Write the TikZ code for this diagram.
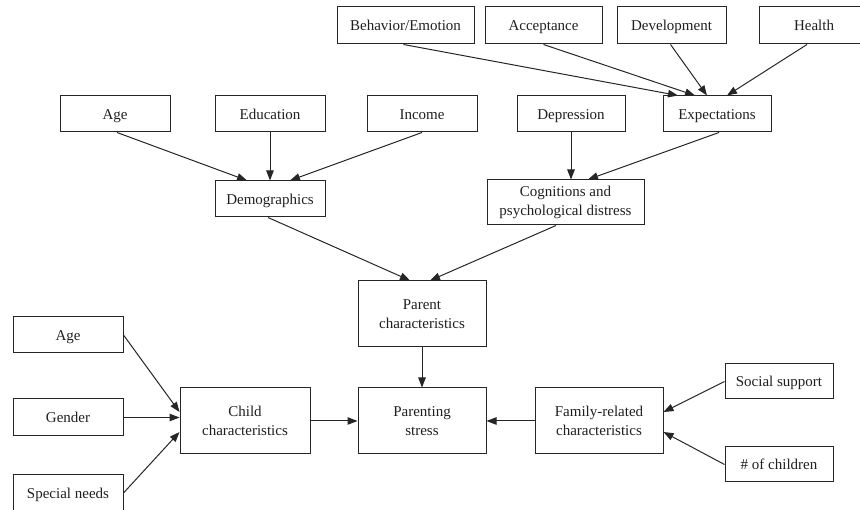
\documentclass[tikz,border=0pt]{standalone}
\usepackage{fontspec}
\setmainfont{Liberation Serif}
\usetikzlibrary{arrows.meta}
\begin{document}
\begin{tikzpicture}[x=1pt,y=-1pt,
  box/.style={draw=black!85,line width=1pt,align=center,inner sep=0pt,
    font=\fontsize{15}{18.5}\selectfont,text=black!88},
  one/.style={box,text height=13.5pt,text depth=2.5pt},
  arr/.style={draw=black!85,line width=1pt,-{Triangle[length=10pt,width=7.5pt]}}]
\useasboundingbox (0,0) rectangle (860,510);
\clip (0,0) rectangle (860,510);
% top row
\node[one,minimum width=137pt,minimum height=37pt] (beh) at (405.5,25.5) {Behavior/Emotion};
\node[one,minimum width=117pt,minimum height=37pt] (acc) at (543.5,25.5) {Acceptance};
\node[one,minimum width=109pt,minimum height=37pt] (dev) at (671.5,25.5) {Development};
\node[one,minimum width=110pt,minimum height=37pt] (hea) at (814,25.5) {Health};
% second row
\node[one,minimum width=110pt,minimum height=36pt] (age) at (115,114) {Age};
\node[one,minimum width=110pt,minimum height=36pt] (edu) at (270,114) {Education};
\node[one,minimum width=110pt,minimum height=36pt] (inc) at (422,114) {Income};
\node[one,minimum width=108pt,minimum height=36pt] (dep) at (571,114) {Depression};
\node[one,minimum width=108pt,minimum height=36pt] (exp) at (717,114) {Expectations};
% third row
\node[one,minimum width=110pt,minimum height=36pt] (dem) at (270,199) {Demographics};
\node[box,minimum width=157pt,minimum height=45pt] (cog) at (565.5,202.5) {Cognitions and\\psychological distress};
% middle
\node[box,minimum width=128pt,minimum height=66pt] (par) at (422,314) {Parent\\characteristics};
\node[box,minimum width=128pt,minimum height=66pt] (str) at (422,421) {Parenting\\stress};
\node[box,minimum width=130pt,minimum height=66pt] (chi) at (245,421) {Child\\characteristics};
\node[box,minimum width=128pt,minimum height=66pt] (fam) at (599,421) {Family-related\\characteristics};
% left column
\node[one,minimum width=110pt,minimum height=36pt] (age2) at (68,335) {Age};
\node[one,minimum width=110pt,minimum height=37pt] (gen) at (68,417.5) {Gender};
\node[one,minimum width=110pt,minimum height=36pt] (spe) at (68,493) {Special needs};
% right column
\node[one,minimum width=108pt,minimum height=35pt] (soc) at (779,381.5) {Social support};
\node[one,minimum width=108pt,minimum height=35pt] (num) at (779,464.5) {\# of children};
% arrows to Expectations
\draw[arr] ([xshift=-2pt]beh.south) -- ([xshift=-39pt]exp.north);
\draw[arr] (acc.south) -- ([xshift=-22pt]exp.north);
\draw[arr] ([xshift=-1pt]dev.south) -- ([xshift=-10pt]exp.north);
\draw[arr] ([xshift=-7pt]hea.south) -- ([xshift=10pt]exp.north);
% arrows to Demographics
\draw[arr] ([xshift=2pt]age.south) -- ([xshift=-23pt]dem.north);
\draw[arr] (edu.south) -- (dem.north);
\draw[arr] (inc.south) -- ([xshift=20pt]dem.north);
% arrows to Cognitions
\draw[arr] (dep.south) -- (dep.south |- cog.north);
\draw[arr] ([xshift=2pt]exp.south) -- ([xshift=22.5pt]cog.north);
% arrows to Parent characteristics
\draw[arr] ([xshift=-2pt]dem.south) -- ([xshift=-12pt]par.north);
\draw[arr] ([xshift=-9.5pt]cog.south) -- ([xshift=8pt]par.north);
% arrows to Parenting stress
\draw[arr] (par.south) -- (str.north);
\draw[arr] (chi.east) -- (str.west);
\draw[arr] (fam.west) -- (str.east);
% arrows to Child characteristics
\draw[arr] (age2.east) -- ([yshift=9pt]chi.west);
\draw[arr] (gen.east) -- (gen.east -| chi.west);
\draw[arr] (spe.east) -- ([yshift=-11pt]chi.west);
% arrows to Family-related characteristics
\draw[arr] (soc.west) -- ([yshift=9pt]fam.east);
\draw[arr] (num.west) -- ([yshift=-11pt]fam.east);
\end{tikzpicture}
\end{document}
